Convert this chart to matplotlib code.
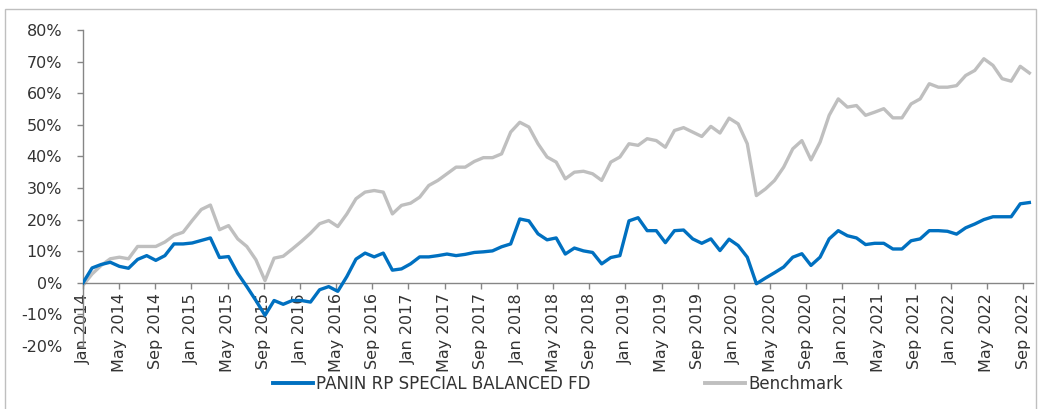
import numpy as np
import matplotlib
matplotlib.use("Agg")
import matplotlib.pyplot as plt
from matplotlib.lines import Line2D
from matplotlib.patches import Rectangle
from matplotlib.ticker import FuncFormatter

# ---- data (cumulative return, %) ----
fund_name = "PANIN RP SPECIAL BALANCED FD"
bench_name = "Benchmark"

fund = [0.0, 4.7, 5.8, 6.5, 5.2, 4.6, 7.4, 8.6, 7.1, 8.6, 12.3, 12.3, 12.6, 13.4, 14.2,
        8.0, 8.3, 3.0, -1.2, -5.6, -10.3, -5.6, -6.8, -5.6, -5.6, -6.1, -2.2, -1.2, -2.7,
        2.0, 7.5, 9.4, 8.2, 9.4, 4.0, 4.4, 6.0, 8.2, 8.2, 8.6, 9.1, 8.6, 9.0, 9.6, 9.8,
        10.1, 11.4, 12.3, 20.2, 19.6, 15.5, 13.6, 14.2, 9.1, 11.0, 10.1, 9.6, 6.0, 8.0,
        8.6, 19.6, 20.6, 16.5, 16.5, 12.7, 16.5, 16.7, 13.9, 12.5, 13.9, 10.2, 13.8, 11.8,
        8.1, -0.3, 1.5, 3.2, 5.0, 8.1, 9.2, 5.5, 8.1, 13.9, 16.5, 14.9, 14.2, 12.1, 12.5,
        12.5, 10.7, 10.7, 13.3, 13.9, 16.5, 16.5, 16.3, 15.4, 17.4, 18.6, 20.0, 20.9, 20.9,
        20.9, 25.0, 25.4]

benchmark = [-0.8, 2.8, 5.5, 7.6, 8.1, 7.6, 11.5, 11.5, 11.5, 12.9, 15.0, 16.0, 19.7, 23.2,
             24.6, 16.8, 18.1, 13.9, 11.5, 7.3, 0.7, 7.8, 8.4, 10.7, 13.1, 15.7, 18.7, 19.7,
             17.8, 21.8, 26.6, 28.7, 29.2, 28.7, 21.8, 24.5, 25.2, 27.1, 30.8, 32.4, 34.5,
             36.6, 36.6, 38.4, 39.6, 39.6, 40.8, 47.7, 50.8, 49.3, 44.0, 39.8, 38.2, 32.9,
             35.0, 35.3, 34.5, 32.4, 38.2, 39.8, 44.0, 43.5, 45.6, 45.0, 42.9, 48.2, 49.1,
             47.7, 46.3, 49.5, 47.4, 52.1, 50.3, 44.0, 27.6, 29.7, 32.4, 36.6, 42.4, 45.0,
             38.9, 44.5, 53.0, 58.2, 55.6, 56.1, 53.0, 54.0, 55.1, 52.2, 52.2, 56.6, 58.2,
             63.0, 61.9, 61.9, 62.4, 65.6, 67.2, 70.9, 68.8, 64.6, 63.8, 68.5, 66.4]

tick_labels = [f"{m} {y}" for y in range(2014, 2023) for m in ("Jan", "May", "Sep")]
y_ticks = [-20, -10, 0, 10, 20, 30, 40, 50, 60, 70, 80]

# ---- styling ----
W, H = 1041, 409
blue = "#0070C0"
gray = "#BFBFBF"
axis_col = "#868686"
text_col = "#333333"
plt.rcParams["font.family"] = ["DejaVu Sans"]
fs = 11.5
fs_leg = 12

fig = plt.figure(figsize=(W / 100, H / 100), dpi=100)
fig.patch.set_facecolor("white")

# outer chart border
fig.patches.append(Rectangle((5 / W, -0.02), (1036 - 5) / W, 1 - 9 / H + 0.02,
                             transform=fig.transFigure, fill=False,
                             edgecolor="#BFBFBF", linewidth=1.0))

left, right, top, bottom = 83, 1033, 30, 346
ax = fig.add_axes([left / W, 1 - bottom / H, (right - left) / W, (bottom - top) / H])

n = len(fund)
x = np.arange(n)
ax.plot(x, benchmark, color=gray, lw=2.4, solid_joinstyle="round", zorder=2)
ax.plot(x, fund, color=blue, lw=2.4, solid_joinstyle="round", zorder=3)

ax.set_ylim(-20, 80)
ax.set_xlim(0, 104.4)
ax.set_yticks(y_ticks)
ax.yaxis.set_major_formatter(FuncFormatter(lambda v, p: f"{v:.0f}%"))

tick_pos = np.arange(0, n, 4) * (9.04 / 9.10)
ax.set_xticks(tick_pos)
ax.set_xticklabels(tick_labels)

for s in ("top", "right"):
    ax.spines[s].set_visible(False)
ax.spines["bottom"].set_position(("data", 0))
for s in ("left", "bottom"):
    ax.spines[s].set_color(axis_col)
    ax.spines[s].set_linewidth(1.0)

ax.tick_params(axis="y", direction="out", length=4, width=1, color=axis_col,
               pad=11, labelsize=fs, labelcolor=text_col)
ax.tick_params(axis="x", direction="out", length=4.5, width=1, color=axis_col,
               pad=3, labelsize=fs, labelcolor=text_col, labelrotation=90)
for lbl in ax.get_xticklabels():
    lbl.set_verticalalignment("top")
    lbl.set_horizontalalignment("center")
ax.set_facecolor("none")

handles = [Line2D([], [], color=blue, lw=2.8), Line2D([], [], color=gray, lw=2.8)]
fig.legend(handles, [fund_name, bench_name], loc="center", ncol=2,
           bbox_to_anchor=(558 / W, 1 - 384 / H), frameon=False, fontsize=fs_leg,
           handlelength=2.4, handletextpad=0.2, columnspacing=6.9, labelcolor=text_col)

fig.savefig("out.png", dpi=100)
